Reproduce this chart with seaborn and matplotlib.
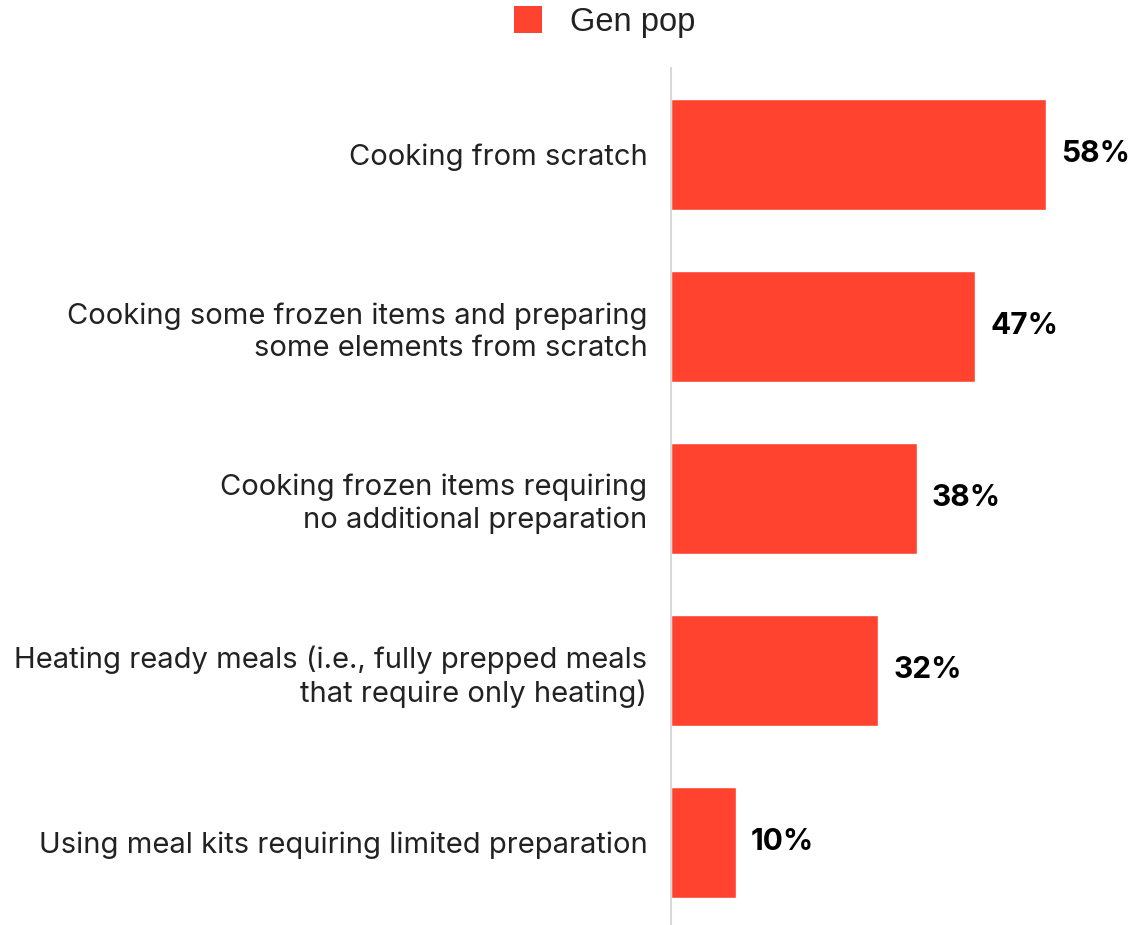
import matplotlib
matplotlib.use("Agg")
import matplotlib.pyplot as plt
import seaborn as sns
import pandas as pd
from matplotlib.patches import Patch

categories = [
    "Cooking from scratch",
    "Cooking some frozen items and preparing\nsome elements from scratch",
    "Cooking frozen items requiring\nno additional preparation",
    "Heating ready meals (i.e., fully prepped meals\nthat require only heating)",
    "Using meal kits requiring limited preparation",
]
values = [58, 47, 38, 32, 10]
series_name = "Gen pop"

bar_color = "#FF432E"
text_color = "#222222"

sns.set_theme(style="white")
plt.rcParams["font.family"] = ["Inter", "DejaVu Sans"]

df = pd.DataFrame({"category": categories, "value": values})

W, H = 1139, 925
fig = plt.figure(figsize=(W / 100, H / 100), dpi=100)
ax = fig.add_axes([671 / W, 1 - 928.5 / H, 1 - 671 / W, 860 / H])

sns.barplot(data=df, x="value", y="category", orient="h", color=bar_color,
            saturation=1, width=0.645, ax=ax)

ax.set_xlim(0, 72.4)
ax.set_ylim(4.5, -0.5)
ax.set_xlabel("")
ax.set_ylabel("")
ax.set_xticks([])
for side in ["top", "right", "bottom"]:
    ax.spines[side].set_visible(False)
ax.spines["left"].set_color("#d9d9d9")
ax.spines["left"].set_linewidth(1.5)
ax.tick_params(axis="y", length=0, pad=17)
for lbl in ax.get_yticklabels():
    lbl.set_fontsize(21)
    lbl.set_color(text_color)
    lbl.set_horizontalalignment("right")
    lbl.set_linespacing(1.25)

for container in ax.containers:
    ax.bar_label(container, labels=[f"{v}%" for v in values], padding=11,
                 fontsize=21.5, fontweight="bold", color="black")

handle = Patch(facecolor=bar_color, edgecolor="none")
fig.legend([handle], [series_name], loc="center", bbox_to_anchor=(0.531, 1 - 22 / H),
           frameon=False, handlelength=0.86, handleheight=0.86,
           handletextpad=0.86, prop={"family": ["Liberation Sans", "DejaVu Sans"], "size": 23.5},
           labelcolor=text_color)

fig.savefig("out.png", dpi=100)
